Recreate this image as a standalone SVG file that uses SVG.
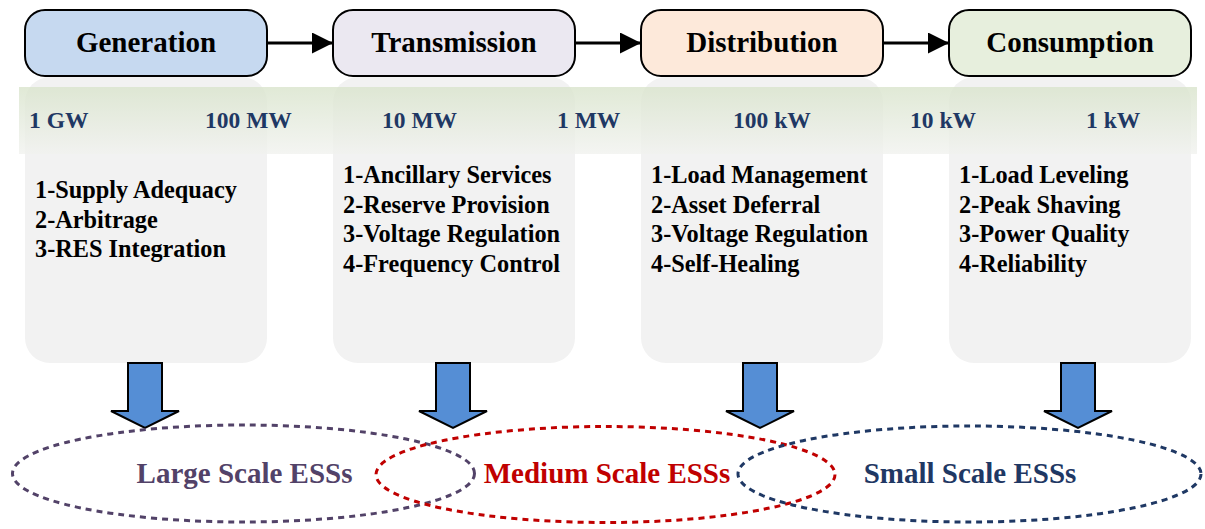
<svg xmlns="http://www.w3.org/2000/svg" width="1205" height="529" viewBox="0 0 1205 529">
  <defs>
    <linearGradient id="band" x1="0" y1="0" x2="0" y2="1">
      <stop offset="0" stop-color="#d9e4cc"/>
      <stop offset="1" stop-color="#f1f2ef"/>
    </linearGradient>
    <marker id="ah" viewBox="0 0 20 20" refX="20" refY="10" markerWidth="21" markerHeight="21" markerUnits="userSpaceOnUse" orient="auto">
      <path d="M0,0 L20,10 L0,20 Z" fill="#000"/>
    </marker>
    <style>
      .box{stroke:#000;stroke-width:2}
      .title{font-family:"Liberation Serif","Times New Roman",serif;font-weight:bold;font-size:29px;fill:#000;text-anchor:middle}
      .panel{fill:#f2f2f2}
      .scale{font-family:"Liberation Serif","Times New Roman",serif;font-weight:bold;font-size:23.5px;fill:#1f3864}
      .list{font-family:"Liberation Serif","Times New Roman",serif;font-weight:bold;font-size:24.3px;fill:#000}
      .conn{stroke:#000;stroke-width:3;fill:none}
      .blk{fill:#558ed5;stroke:#000;stroke-width:2;stroke-linejoin:miter}
      .ell{fill:none;stroke-width:3;stroke-dasharray:6 5}
      .etxt{font-family:"Liberation Serif","Times New Roman",serif;font-weight:bold;font-size:29px;text-anchor:middle}
    </style>
  </defs>
  <rect width="1205" height="529" fill="#fff"/>

  <!-- panels -->
  <g id="panels">
    <rect class="panel" x="25" y="77" width="242" height="286" rx="25"/>
    <rect class="panel" x="333" y="77" width="242" height="286" rx="25"/>
    <rect class="panel" x="641" y="77" width="242" height="286" rx="25"/>
    <rect class="panel" x="949" y="77" width="242" height="286" rx="25"/>
  </g>

  <!-- scale band -->
  <g id="scale-band">
    <rect x="19" y="87" width="1178" height="67" fill="url(#band)" opacity="0.8"/>
    <text class="scale" x="29" y="128">1 GW</text>
    <text class="scale" x="205" y="128">100 MW</text>
    <text class="scale" x="382" y="128">10 MW</text>
    <text class="scale" x="557" y="128">1 MW</text>
    <text class="scale" x="733" y="128">100 kW</text>
    <text class="scale" x="910" y="128">10 kW</text>
    <text class="scale" x="1086" y="128">1 kW</text>
  </g>

  <g id="generation">
    <rect class="box" x="25" y="10" width="242" height="66" rx="20" fill="#c6d9f0"/>
    <text class="title" x="146" y="52">Generation</text>
    <text class="list" x="35" y="198">1-Supply Adequacy</text>
    <text class="list" x="35" y="227.5">2-Arbitrage</text>
    <text class="list" x="35" y="257">3-RES Integration</text>
  </g>

  <g id="transmission">
    <rect class="box" x="333" y="10" width="242" height="66" rx="20" fill="#ebe8f1"/>
    <text class="title" x="454" y="52">Transmission</text>
    <text class="list" x="343" y="183">1-Ancillary Services</text>
    <text class="list" x="343" y="212.5">2-Reserve Provision</text>
    <text class="list" x="343" y="242">3-Voltage Regulation</text>
    <text class="list" x="343" y="271.5">4-Frequency Control</text>
  </g>

  <g id="distribution">
    <rect class="box" x="641" y="10" width="242" height="66" rx="20" fill="#fde9da"/>
    <text class="title" x="762" y="52">Distribution</text>
    <text class="list" x="651" y="183">1-Load Management</text>
    <text class="list" x="651" y="212.5">2-Asset Deferral</text>
    <text class="list" x="651" y="242">3-Voltage Regulation</text>
    <text class="list" x="651" y="271.5">4-Self-Healing</text>
  </g>

  <g id="consumption">
    <rect class="box" x="949" y="10" width="242" height="66" rx="20" fill="#e7efdd"/>
    <text class="title" x="1070" y="52">Consumption</text>
    <text class="list" x="959" y="183">1-Load Leveling</text>
    <text class="list" x="959" y="212.5">2-Peak Shaving</text>
    <text class="list" x="959" y="242">3-Power Quality</text>
    <text class="list" x="959" y="271.5">4-Reliability</text>
  </g>

  <g id="connectors">
    <line class="conn" x1="267" y1="43" x2="333" y2="43" marker-end="url(#ah)"/>
    <line class="conn" x1="575" y1="43" x2="641" y2="43" marker-end="url(#ah)"/>
    <line class="conn" x1="883" y1="43" x2="949" y2="43" marker-end="url(#ah)"/>
    <path class="blk" d="M128,363 H162 V411 H179 L145,428 L111,411 H128 Z"/>
    <path class="blk" d="M436,363 H470 V411 H487 L453,428 L419,411 H436 Z"/>
    <path class="blk" d="M743,363 H777 V411 H794 L760,428 L726,411 H743 Z"/>
    <path class="blk" d="M1061,363 H1095 V411 H1112 L1078,428 L1044,411 H1061 Z"/>
  </g>

  <g id="large-scale">
    <ellipse class="ell" cx="243.5" cy="473.5" rx="231" ry="48.5" stroke="#524268"/>
    <text class="etxt" x="244.5" y="483" fill="#524268">Large Scale ESSs</text>
  </g>
  <g id="medium-scale">
    <ellipse class="ell" cx="605.5" cy="474.5" rx="229.5" ry="48" stroke="#c00000"/>
    <text class="etxt" x="607" y="483" fill="#c00000">Medium Scale ESSs</text>
  </g>
  <g id="small-scale">
    <ellipse class="ell" cx="969.5" cy="474" rx="231.5" ry="48" stroke="#1f3864"/>
    <text class="etxt" x="970" y="483" fill="#1f3864">Small Scale ESSs</text>
  </g>
</svg>
